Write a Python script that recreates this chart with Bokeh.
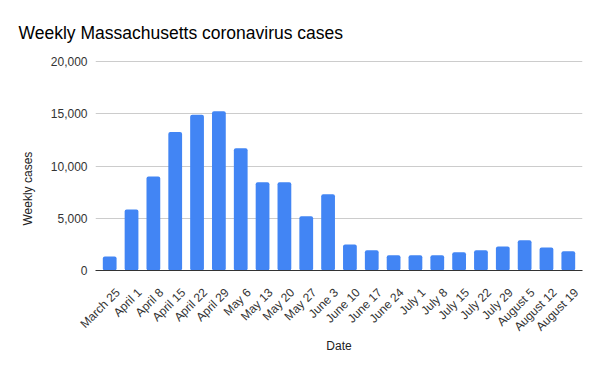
import math
from bokeh.plotting import figure
from bokeh.models import (Range1d, Title, NumeralTickFormatter, FixedTicker)
from bokeh.embed import file_html
from bokeh.resources import INLINE

dates = ["March 25", "April 1", "April 8", "April 15", "April 22", "April 29",
         "May 6", "May 13", "May 20", "May 27", "June 3", "June 10", "June 17",
         "June 24", "July 1", "July 8", "July 15", "July 22", "July 29",
         "August 5", "August 12", "August 19"]
cases = [1350, 5850, 9000, 13250, 14900, 15250, 11700, 8450, 8450, 5200, 7300,
         2500, 1950, 1450, 1450, 1450, 1750, 1950, 2300, 2900, 2200, 1850]
y_ticks = [0, 5000, 10000, 15000, 20000]

FONT = "Liberation Sans"
PAD = 0.15
LABEL_SHIFT = 0.37

n = len(dates)
slot = list(range(n))                      # category index of each date
centers = [i + 0.5 for i in slot]          # slot centres on the axis

p = figure(x_range=Range1d(-PAD, n + PAD),
           y_range=Range1d(0, 20100),
           frame_width=487, frame_height=210,
           min_border_left=95, min_border_right=18, min_border_top=60, min_border_bottom=101,
           output_backend="svg", toolbar_location=None)

p.vbar(x=centers, top=cases, width=0.63, color="#4285f4", line_color=None, border_radius=2)

p.title.text = "Weekly Massachusetts coronavirus cases"
p.title.text_font = FONT
p.title.text_font_size = "17.5px"
p.title.text_font_style = "normal"
p.title.text_color = "#000000"
p.title.align = "left"
p.title.offset = -77
p.title.standoff = 35

p.outline_line_color = None
p.background_fill_color = "white"
p.border_fill_color = "white"

p.xgrid.grid_line_color = None
p.ygrid.grid_line_color = "#cccccc"
p.ygrid.ticker = FixedTicker(ticks=y_ticks)

yax = p.yaxis[0]
yax.ticker = FixedTicker(ticks=y_ticks)
yax.formatter = NumeralTickFormatter(format="0,0")
yax.axis_line_color = None
yax.major_tick_line_color = None
yax.minor_tick_line_color = None
yax.major_label_standoff = 2
yax.major_label_text_font = FONT
yax.major_label_text_font_size = "12px"
yax.major_label_text_color = "#333333"

tick_pos = [round(c + LABEL_SHIFT, 3) for c in centers]
xax = p.xaxis[0]
xax.ticker = FixedTicker(ticks=tick_pos)
xax.major_label_overrides = {t: d for t, d in zip(tick_pos, dates)}
xax.major_label_orientation = math.pi / 4
xax.major_tick_line_color = None
xax.minor_tick_line_color = None
xax.axis_line_color = "#333333"
xax.major_label_text_font = FONT
xax.major_label_text_font_size = "12px"
xax.major_label_text_color = "#333333"
xax.major_label_standoff = 14
xax.axis_label = "Date"
xax.axis_label_text_font = FONT
xax.axis_label_text_font_size = "12px"
xax.axis_label_text_font_style = "normal"
xax.axis_label_text_color = "#222222"
xax.axis_label_standoff = -3

ylab = Title(text="Weekly cases", align="left", offset=45, text_font=FONT,
             text_font_size="12px", text_font_style="normal", text_color="#222222",
             standoff=26)
p.add_layout(ylab, "left")

open("out.html", "w").write(file_html(p, INLINE))
